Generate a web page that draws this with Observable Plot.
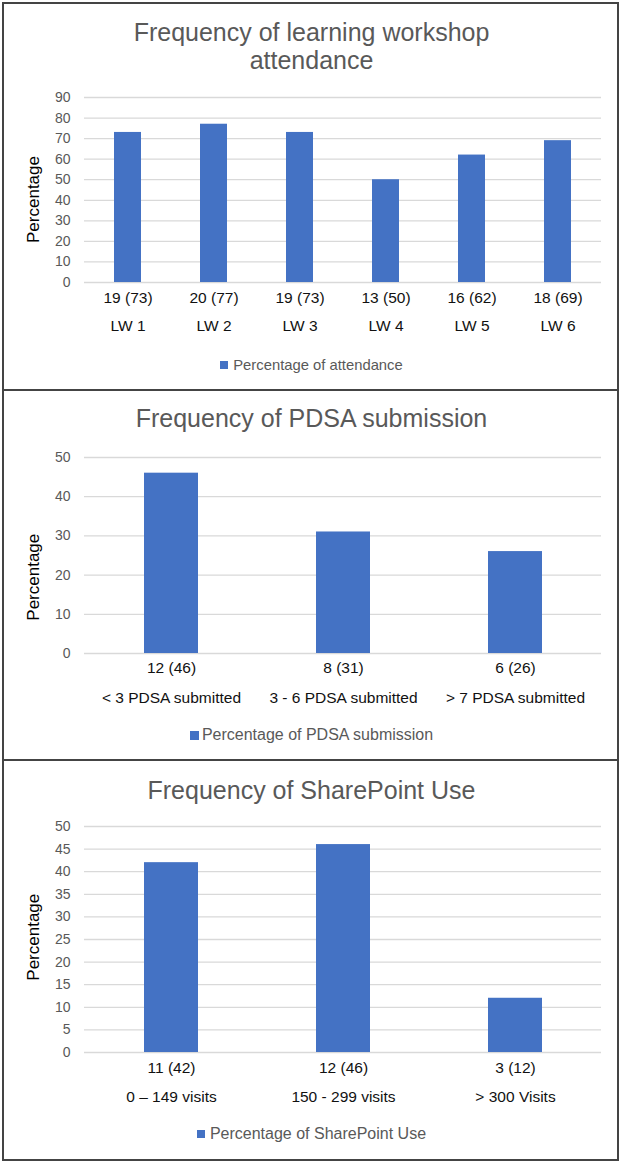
<!DOCTYPE html>
<html>
<head>
<meta charset="utf-8">
<script src="https://cdn.jsdelivr.net/npm/d3@7"></script>
<script src="https://cdn.jsdelivr.net/npm/@observablehq/plot@0.6"></script>
<style>
  html, body { margin: 0; padding: 0; background: #fff; }
  #wrap { position: relative; width: 623px; height: 1163px; overflow: hidden; font-family: "Liberation Sans", Arial, sans-serif; }
  .panel { position: absolute; left: 2px; width: 617px; box-sizing: border-box; border: 2px solid #444; }
  .title { position: absolute; left: 0; width: 623px; text-align: center; color: #595959; font-size: 25px; line-height: 28px; }
  .legend { position: absolute; left: 0; width: 623px; height: 20px; display: flex; justify-content: center; align-items: center; color: #595959; }
  .legend .sw { display: inline-block; background: #4472C4; }
  .chart { position: absolute; left: 0; }
  .chart svg { display: block; }
</style>
</head>
<body>
<div id="wrap">
  <div class="panel" style="top:2px;height:389px"></div>
  <div class="panel" style="top:389px;height:372px"></div>
  <div class="panel" style="top:759px;height:402px"></div>

  <div class="title" style="top:18px">Frequency of learning workshop<br>attendance</div>
  <div class="title" style="top:404px">Frequency of PDSA submission</div>
  <div class="title" style="top:776px">Frequency of SharePoint Use</div>

  <div class="chart" id="c1" style="top:0px"></div>
  <div class="chart" id="c2" style="top:389px"></div>
  <div class="chart" id="c3" style="top:761px"></div>

  <div class="legend" style="top:355px;font-size:14.8px"><span class="sw" style="width:8px;height:8px;margin-right:5px"></span><span id="l1"></span></div>
  <div class="legend" style="top:725px;font-size:16px"><span class="sw" style="width:9px;height:9px;margin-right:3px"></span><span id="l2"></span></div>
  <div class="legend" style="top:1124px;font-size:16px"><span class="sw" style="width:8px;height:8px;margin-right:5px"></span><span id="l3"></span></div>
</div>
<script>
// ---- Data ----
const lwCategories = ["LW 1", "LW 2", "LW 3", "LW 4", "LW 5", "LW 6"];
const lwCounts = ["19 (73)", "20 (77)", "19 (73)", "13 (50)", "16 (62)", "18 (69)"];
const lwValues = [73, 77, 73, 50, 62, 69];
const lwTicks = [0, 10, 20, 30, 40, 50, 60, 70, 80, 90];
const lwSeries = "Percentage of attendance";

const pdsaCategories = ["< 3 PDSA submitted", "3 - 6 PDSA submitted", "> 7 PDSA submitted"];
const pdsaCounts = ["12 (46)", "8 (31)", "6 (26)"];
const pdsaValues = [46, 31, 26];
const pdsaTicks = [0, 10, 20, 30, 40, 50];
const pdsaSeries = "Percentage of PDSA submission";

const spCategories = ["0 \u2013 149 visits", "150 - 299 visits", "> 300 Visits"];
const spCounts = ["11 (42)", "12 (46)", "3 (12)"];
const spValues = [42, 46, 12];
const spTicks = [0, 5, 10, 15, 20, 25, 30, 35, 40, 45, 50];
const spSeries = "Percentage of SharePoint Use";

const yLabel = "Percentage";

// ---- Chart builder ----
function makeChart(cats, counts, values, ticks, o) {
  const rows = cats.map((c, i) => ({cat: c, count: counts[i], value: values[i]}));
  const p = 0.687;
  return Plot.plot({
    width: 623,
    height: o.height,
    marginLeft: 84,
    marginRight: 22,
    marginTop: o.marginTop,
    marginBottom: o.marginBottom,
    style: {fontFamily: "'Liberation Sans', Arial, sans-serif", fontSize: "14px", background: "transparent", overflow: "visible"},
    x: {type: "band", domain: cats, paddingInner: p, paddingOuter: p / 2, align: 0.5, axis: null},
    y: {domain: [0, ticks[ticks.length - 1]], axis: null},
    marks: [
      Plot.gridY(ticks, {stroke: "#d9d9d9", strokeOpacity: 1, strokeWidth: 1.3}),
      Plot.axisY(ticks, {tickSize: 0, tickPadding: 14, fill: "#595959", fontSize: 14, label: null}),
      Plot.barY(rows, {x: "cat", y: "value", fill: "#4472C4"}),
      Plot.text(rows, {x: "cat", text: "count", frameAnchor: "bottom", dy: o.dyCount, fontSize: 15.5, fill: "#111"}),
      Plot.text(rows, {x: "cat", text: "cat", frameAnchor: "bottom", dy: o.dyCat, fontSize: 15.5, fill: "#111"}),
      Plot.text([yLabel], {text: d => d, frameAnchor: "left", textAnchor: "middle", dx: -51, dy: o.dyLabel, rotate: -90, fontSize: 17, fill: "#000"})
    ]
  });
}

document.getElementById("c1").append(makeChart(lwCategories, lwCounts, lwValues, lwTicks,
  {height: 389, marginTop: 97, marginBottom: 107, dyCount: 20, dyCat: 48, dyLabel: 9.5}));
document.getElementById("c2").append(makeChart(pdsaCategories, pdsaCounts, pdsaValues, pdsaTicks,
  {height: 372, marginTop: 68, marginBottom: 108, dyCount: 19, dyCat: 49, dyLabel: 21.7}));
document.getElementById("c3").append(makeChart(spCategories, spCounts, spValues, spTicks,
  {height: 399, marginTop: 65, marginBottom: 108, dyCount: 20, dyCat: 49, dyLabel: -2.3}));

document.getElementById("l1").textContent = lwSeries;
document.getElementById("l2").textContent = pdsaSeries;
document.getElementById("l3").textContent = spSeries;
</script>
</body>
</html>
